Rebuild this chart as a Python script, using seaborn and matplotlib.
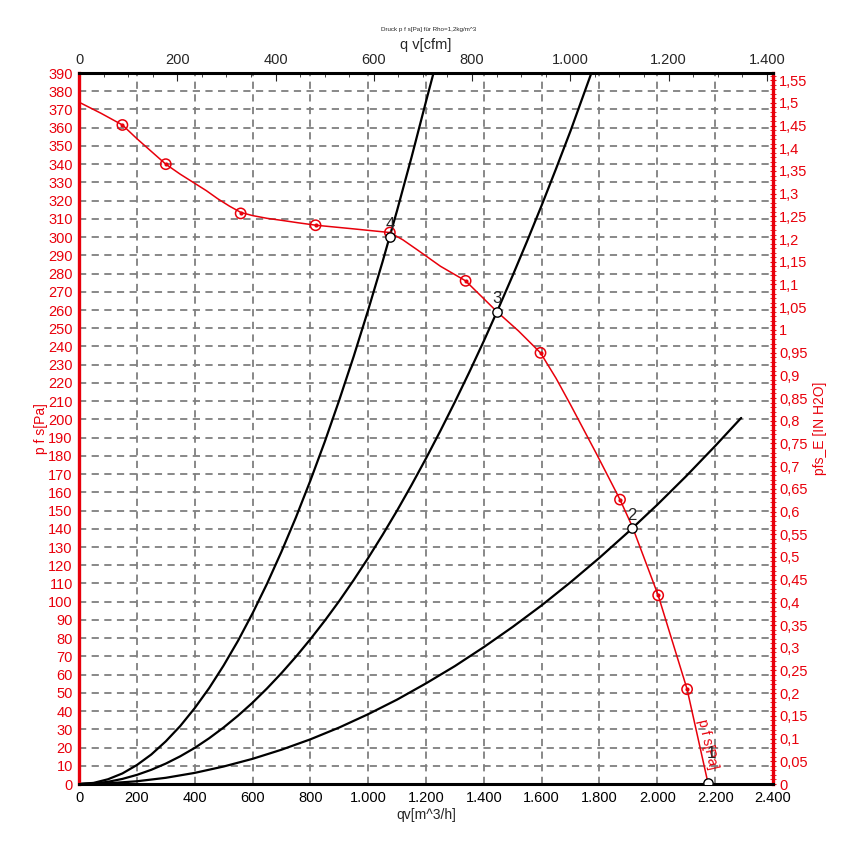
import numpy as np
import pandas as pd
import matplotlib.pyplot as plt
import matplotlib.ticker as mticker
import seaborn as sns

# fan curve p_fs over q_v
fan_q = [0, 75, 150, 200, 250, 300, 350, 400, 440, 480, 520, 560, 600, 650, 700,
         760, 820, 950, 1075, 1120, 1170, 1250, 1337, 1446, 1520, 1596, 1650,
         1700, 1790, 1871, 1914, 2003, 2103, 2176]
fan_p = [374, 368, 361.5, 354, 347, 340, 334.5, 329.5, 325.5, 321, 317, 313.5,
         311.8, 310.3, 309.2, 307.8, 306.5, 304.5, 302.5, 298.5, 293, 284, 276,
         259, 248.5, 236.5, 222.5, 208, 181, 156, 141, 103.5, 52, 0]

# measured points (red circles)
meas_q = [150, 300, 559, 818, 1075, 1337, 1596, 1871, 2003, 2103]
meas_p = [361.5, 340, 313, 306.5, 302.5, 276, 236.5, 156, 103.5, 52]

# system curves
sys4_q = [0, 50, 100, 150, 200, 250, 300, 350, 400, 450, 500, 550, 600, 650, 700,
          750, 800, 850, 900, 950, 1000, 1050, 1100, 1150, 1200, 1226]
sys4_p = [0, 0.6, 2.6, 5.8, 10.4, 16.2, 23.4, 31.8, 41.6, 52.6, 65, 78.6, 93.6,
          109.8, 127.4, 146.2, 166.4, 187.8, 210.6, 234.6, 260, 286.6, 314.6,
          343.8, 374.4, 390]
sys3_q = [0, 50, 100, 150, 200, 250, 300, 350, 400, 450, 500, 550, 600, 650, 700,
          750, 800, 850, 900, 950, 1000, 1050, 1100, 1150, 1200, 1250, 1300, 1350,
          1400, 1450, 1500, 1550, 1600, 1650, 1700, 1772]
sys3_p = [0, 0.3, 1.2, 2.8, 5, 7.8, 11.2, 15.2, 19.8, 25.1, 31, 37.5, 44.6, 52.4,
          60.8, 69.8, 79.4, 89.6, 100.4, 111.9, 124, 136.7, 150, 164, 178.6, 193.8,
          209.6, 226, 243, 260.7, 279, 297.9, 317.4, 337.6, 358.3, 390]
sys2_q = [0, 100, 200, 300, 400, 500, 600, 700, 800, 900, 1000, 1100, 1200, 1300,
          1400, 1500, 1600, 1700, 1800, 1900, 2000, 2100, 2200, 2290]
sys2_p = [0, 0.4, 1.5, 3.4, 6.1, 9.6, 13.8, 18.8, 24.5, 31, 38.3, 46.3, 55.2, 64.7,
          75.1, 86.2, 98, 110.7, 124.1, 138.3, 153.2, 168.9, 185.4, 200.8]

# operating points
op_labels = ['1', '2', '3', '4']
op_q = [2176, 1912, 1446, 1075]
op_p = [0.5, 140.3, 259, 300]

cfm_ticks = [0, 200, 400, 600, 800, 1000, 1200, 1400]
inh2o_ticks = [round(0.05 * i, 2) for i in range(32)]

RED = '#e8000b'
sns.set_style('white')
plt.rcParams['font.family'] = ['Liberation Sans', 'DejaVu Sans']

fig = plt.figure(figsize=(8.6, 8.52), dpi=100)
ax = fig.add_axes([0.0919, 0.0798, 0.8069, 0.8345])

for q, p in [(sys4_q, sys4_p), (sys3_q, sys3_p), (sys2_q, sys2_p)]:
    sns.lineplot(x=q, y=p, ax=ax, color='black', lw=1.6, sort=False, estimator=None)

sns.lineplot(x=fan_q, y=fan_p, ax=ax, color=RED, lw=1.1, sort=False, estimator=None)
sns.scatterplot(x=meas_q, y=meas_p, ax=ax, marker='o', s=55, facecolor='none',
                edgecolor=RED, linewidth=1.1, zorder=4)
sns.scatterplot(x=meas_q, y=meas_p, ax=ax, marker='o', s=9, color=RED,
                linewidth=0, zorder=4)
sns.scatterplot(x=op_q, y=op_p, ax=ax, marker='o', s=45, color='white',
                edgecolor='black', linewidth=1.0, zorder=5)
for lab, q, p in zip(op_labels, op_q, op_p):
    if lab == '1':
        ax.text(q + 12, p + 12, lab, fontsize=12, ha='center', va='bottom', zorder=6)
    else:
        ax.text(q, p + 3, lab, fontsize=12, ha='center', va='bottom', zorder=6)

ax.text(2175, 22, 'p f s[Pa]', color=RED, fontsize=10, rotation=-77,
        ha='center', va='center', rotation_mode='anchor')

ax.set_xlim(0, 2400)
ax.set_ylim(0, 390)
ax.xaxis.set_major_locator(mticker.MultipleLocator(200))
ax.xaxis.set_minor_locator(mticker.MultipleLocator(50))
ax.yaxis.set_major_locator(mticker.MultipleLocator(10))
ax.yaxis.set_minor_locator(mticker.MultipleLocator(2))
ax.xaxis.set_major_formatter(mticker.FuncFormatter(lambda v, _: f'{int(round(v)):,}'.replace(',', '.')))
ax.grid(True, which='major', color='#7f7f7f', linestyle=(0, (4, 3)), lw=1.3)

ax.tick_params(axis='x', which='both', direction='in', colors='black', labelsize=10.5, pad=5)
ax.tick_params(axis='x', which='major', length=6, width=1)
ax.tick_params(axis='x', which='minor', length=3, width=1)
ax.tick_params(axis='y', which='both', direction='inout', color=RED, labelcolor=RED,
               labelsize=10.5, pad=2)
ax.tick_params(axis='y', which='major', length=5, width=1)
ax.tick_params(axis='y', which='minor', length=4, width=1)

for side in ['left', 'right']:
    ax.spines[side].set_color(RED)
    ax.spines[side].set_linewidth(2.4)
for side in ['top', 'bottom']:
    ax.spines[side].set_color('black')
    ax.spines[side].set_linewidth(2.2)

ax.set_xlabel('qv[m^3/h]', fontsize=10, labelpad=2)
ax.set_ylabel('p f s[Pa]', fontsize=10, color=RED, labelpad=0)

# secondary axes: cfm on top, inch H2O on the right
top = ax.secondary_xaxis('top', functions=(lambda m: m / 1.699, lambda c: c * 1.699))
top.xaxis.set_major_locator(mticker.FixedLocator(cfm_ticks))
top.xaxis.set_minor_locator(mticker.FixedLocator(list(range(0, 1401, 50))))
top.xaxis.set_major_formatter(mticker.FuncFormatter(lambda v, _: f'{int(round(v)):,}'.replace(',', '.')))
top.tick_params(axis='x', which='both', direction='in', labelsize=10.5, pad=4)
top.tick_params(axis='x', which='major', length=6)
top.tick_params(axis='x', which='minor', length=3)
top.spines['top'].set_visible(False)
top.set_xlabel('q v[cfm]', fontsize=10.5, labelpad=3)

def fmt_in(v, _):
    s = f'{v:.2f}'.rstrip('0').rstrip('.')
    return s.replace('.', ',')

right = ax.secondary_yaxis('right', functions=(lambda p: p / 249.09, lambda i: i * 249.09))
right.yaxis.set_major_locator(mticker.FixedLocator(inh2o_ticks))
right.yaxis.set_minor_locator(mticker.FixedLocator([i / 100 for i in range(157)]))
right.yaxis.set_major_formatter(mticker.FuncFormatter(fmt_in))
right.tick_params(axis='y', which='both', direction='inout', color=RED, labelcolor=RED,
                  labelsize=10.5, pad=2)
right.tick_params(axis='y', which='major', length=5)
right.tick_params(axis='y', which='minor', length=4)
right.spines['right'].set_visible(False)
right.set_ylabel('pfs_E [IN H2O]', fontsize=10, color=RED, labelpad=4)

fig.text(0.498, 0.965, 'Druck p f s[Pa] für Rho=1,2kg/m^3', fontsize=4.5,
         ha='center', va='center')

fig.savefig('out.png', dpi=100)
